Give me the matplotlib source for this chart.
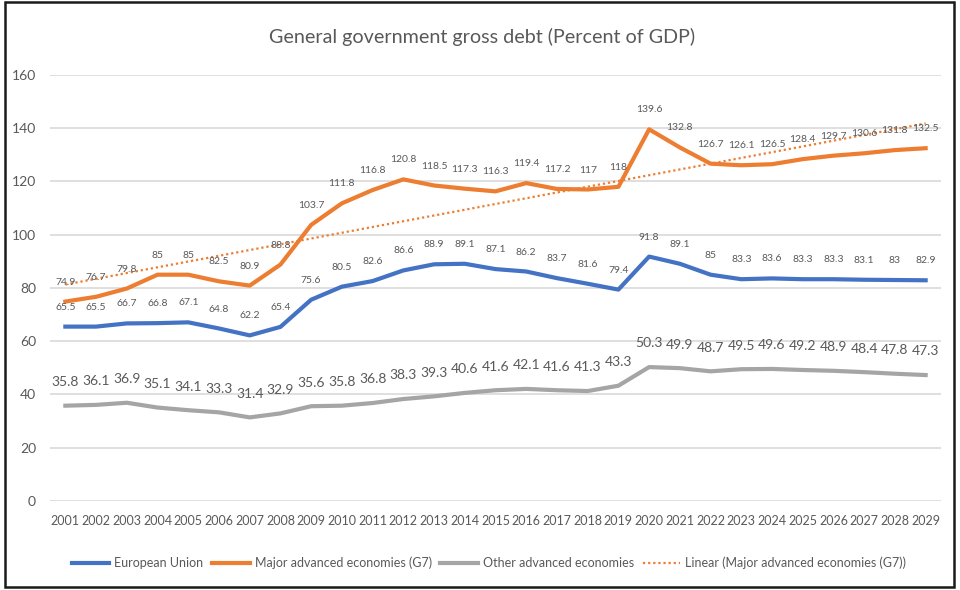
import numpy as np
import matplotlib
matplotlib.use("Agg")
import matplotlib.pyplot as plt
from matplotlib.patches import Rectangle

plt.rcParams['font.family'] = ['Lato', 'DejaVu Sans']

# data
years = list(range(2001, 2030))
eu = [65.5, 65.5, 66.7, 66.8, 67.1, 64.8, 62.2, 65.4, 75.6, 80.5, 82.6, 86.6, 88.9, 89.1,
      87.1, 86.2, 83.7, 81.6, 79.4, 91.8, 89.1, 85, 83.3, 83.6, 83.3, 83.3, 83.1, 83, 82.9]
g7 = [74.9, 76.7, 79.8, 85, 85, 82.5, 80.9, 88.8, 103.7, 111.8, 116.8, 120.8, 118.5, 117.3,
      116.3, 119.4, 117.2, 117, 118, 139.6, 132.8, 126.7, 126.1, 126.5, 128.4, 129.7, 130.6, 131.8, 132.5]
other = [35.8, 36.1, 36.9, 35.1, 34.1, 33.3, 31.4, 32.9, 35.6, 35.8, 36.8, 38.3, 39.3, 40.6,
         41.6, 42.1, 41.6, 41.3, 43.3, 50.3, 49.9, 48.7, 49.5, 49.6, 49.2, 48.9, 48.4, 47.8, 47.3]
yticks = [0, 20, 40, 60, 80, 100, 120, 140, 160]

blue = '#4472C4'
orange = '#ED7D31'
gray = '#A5A5A5'
txt = '#595959'

W, H = 960, 590
fig = plt.figure(figsize=(W / 100, H / 100), dpi=100)
ax = fig.add_axes([50 / W, (H - 501) / H, (941 - 50) / W, (501 - 75) / H])

x = np.array(years)
ax.plot(x, eu, color=blue, lw=3, solid_joinstyle='round', label='European Union', zorder=3)
ax.plot(x, g7, color=orange, lw=3, solid_joinstyle='round', label='Major advanced economies (G7)', zorder=3)
ax.plot(x, other, color=gray, lw=3, solid_joinstyle='round', label='Other advanced economies', zorder=3)

# excel style linear trendline on G7
k, b = np.polyfit(x, g7, 1)
ax.plot(x, k * x + b, color=orange, lw=1.6, ls=(0, (1, 1.3)),
        label='Linear (Major advanced economies (G7))', zorder=2)

for xi, v in zip(x, eu):
    ax.annotate(f'{v:g}', (xi, v), xytext=(0, 14), textcoords='offset points',
                ha='center', va='center', fontsize=7.5, color=txt)
for xi, v in zip(x, g7):
    ax.annotate(f'{v:g}', (xi, v), xytext=(0, 14), textcoords='offset points',
                ha='center', va='center', fontsize=7.5, color=txt)
for xi, v in zip(x, other):
    ax.annotate(f'{v:g}', (xi, v), xytext=(0, 17), textcoords='offset points',
                ha='center', va='center', fontsize=10, color=txt)

ax.set_xlim(2000.5, 2029.5)
ax.set_ylim(0, 160)
ax.set_yticks(yticks)
ax.set_xticks(x)
ax.set_xticklabels([str(y) for y in years], fontsize=9, color=txt)
ax.tick_params(axis='y', labelsize=10, colors=txt, length=0, pad=10)
ax.tick_params(axis='x', length=0, pad=10)
ax.grid(axis='y', color='#D9D9D9', lw=1.2)
ax.set_axisbelow(True)
for s in ax.spines.values():
    s.set_visible(False)

fig.text(482 / W, 1 - 37 / H, 'General government gross debt (Percent of GDP)',
         ha='center', va='center', fontsize=14.2, color=txt)

fig.legend(loc='center', bbox_to_anchor=(489 / W, 1 - 563 / H), ncol=4, frameon=False,
           fontsize=9, handlelength=3.0, columnspacing=0.7, handletextpad=0.4,
           labelcolor=txt)

fig.patches.append(Rectangle((5 / W, 3 / H), (954 - 5) / W, (588 - 3) / H,
                             transform=fig.transFigure, fill=False, ec='#1a1a1a', lw=1.8))

fig.savefig('out.png', dpi=100, facecolor='white')
